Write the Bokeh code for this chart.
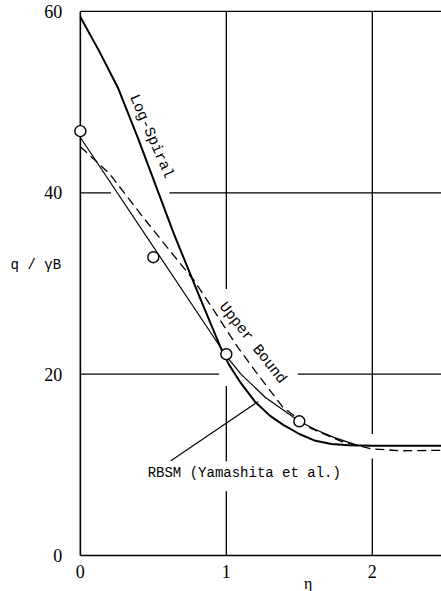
from bokeh.plotting import figure
from bokeh.models import Range1d, FixedTicker, Label, LinearAxis
from bokeh.embed import file_html
from bokeh.resources import INLINE

# ---- data ----
logspiral_x = [0.0, 0.13, 0.26, 0.40, 0.64, 0.83, 0.97, 1.0]
logspiral_y = [59.4, 55.6, 51.5, 45.8, 35.5, 28.0, 22.6, 21.8]

rbsm_x = [0.97, 1.02, 1.1, 1.2, 1.3, 1.39, 1.5, 1.61, 1.72, 1.84, 2.0, 2.16, 2.474]
rbsm_y = [22.6, 21.0, 19.0, 16.9, 15.4, 14.4, 13.4, 12.65, 12.3, 12.15, 12.1, 12.1, 12.1]

thin_x = [0.0, 1.0, 1.1, 1.27, 1.5, 1.61, 1.74, 1.9]
thin_y = [46.1, 22.0, 20.0, 17.4, 14.8, 13.9, 13.0, 12.15]

upper_x = [0.0, 0.2, 0.43, 0.574, 0.78, 0.916, 1.077, 1.2, 1.385, 1.57, 1.8, 2.0, 2.2, 2.474]
upper_y = [45.1, 42.1, 37.3, 34.4, 30.3, 27.0, 23.0, 20.3, 16.4, 14.1, 12.5, 11.75, 11.55, 11.6]

circ_x = [0.0, 0.5, 1.0, 1.5]
circ_y = [46.8, 32.9, 22.2, 14.8]

x_ticks = [0, 1, 2]
y_ticks = [0, 20, 40, 60]
x_grid = [1, 2]
y_grid = [20, 40, 60]
Y_TOP = 60

# leader line of the RBSM label
leader_x = [0.62, 1.22]
leader_y = [10.45, 17.0]

# gaps in the grid lines (as in the drawing)
hgaps = [(40, 0.21, 0.61), (20, 0.95, 1.49)]
vgaps = [(1, 18.7, 29.4), (1, 7.1, 10.4), (2, 10.7, 13.4)]

XMIN, XMAX = -0.547, 2.474
YMIN, YMAX = -3.97, 61.21

p = figure(width=441, height=591, output_backend="svg", toolbar_location=None,
           x_range=Range1d(XMIN, XMAX), y_range=Range1d(YMIN, YMAX),
           x_axis_location=None, y_axis_location=None,
           min_border_left=0, min_border_right=0, min_border_top=0,
           min_border_bottom=0)
p.outline_line_color = None
p.background_fill_color = "white"
p.border_fill_color = "white"
p.xgrid.visible = False
p.ygrid.visible = False

# axes placed at data zero
xax = LinearAxis(ticker=FixedTicker(ticks=x_ticks), fixed_location=0)
yax = LinearAxis(ticker=FixedTicker(ticks=y_ticks), fixed_location=0)
for ax in (xax, yax):
    ax.axis_line_color = None
    ax.major_tick_line_color = None
    ax.minor_tick_line_color = None
    ax.major_label_text_font = "Liberation Serif"
    ax.major_label_text_font_size = "18px"
    ax.major_label_text_color = "black"
xax.major_label_standoff = 3
yax.major_label_standoff = 12
p.add_layout(xax, "below")
p.add_layout(yax, "left")

# grid lines, spanning the plotting box only
p.segment(x0=x_grid, y0=[0] * len(x_grid), x1=x_grid, y1=[Y_TOP] * len(x_grid),
          line_color="black", line_width=1.3)
p.segment(x0=[0] * len(y_grid), y0=y_grid, x1=[XMAX] * len(y_grid), y1=y_grid,
          line_color="black", line_width=1.3)

# axis lines
p.line([0, 0], [0, Y_TOP], line_color="black", line_width=1.6)
p.line([0, XMAX], [0, 0], line_color="black", line_width=1.6)

# white gaps over grid lines
p.segment(x0=[g[1] for g in hgaps], y0=[g[0] for g in hgaps],
          x1=[g[2] for g in hgaps], y1=[g[0] for g in hgaps],
          line_color="white", line_width=4)
p.segment(x0=[g[0] for g in vgaps], y0=[g[1] for g in vgaps],
          x1=[g[0] for g in vgaps], y1=[g[2] for g in vgaps],
          line_color="white", line_width=4)

# curves
p.line(upper_x, upper_y, line_color="black", line_width=1.3, line_dash="9 5")
p.line(thin_x, thin_y, line_color="black", line_width=1.2)
p.line(logspiral_x, logspiral_y, line_color="black", line_width=2.0)
p.line(rbsm_x, rbsm_y, line_color="black", line_width=2.0)
p.line(leader_x, leader_y, line_color="black", line_width=1.1)

p.scatter(circ_x, circ_y, size=11, marker="circle", fill_color="white",
          line_color="black", line_width=1.4)

# labels
mono = "Liberation Mono"
p.add_layout(Label(x=0.483, y=46.2, text="Log-Spiral", angle=-1.16,
                   text_font=mono, text_font_size="15px", text_align="center",
                   text_baseline="middle", text_color="black"))
p.add_layout(Label(x=1.178, y=23.4, text="Upper Bound", angle=-0.904,
                   text_font=mono, text_font_size="15px", text_align="center",
                   text_baseline="middle", text_color="black"))
p.add_layout(Label(x=1.123, y=9.1, text="RBSM (Yamashita et al.)",
                   text_font=mono, text_font_size="14px", text_align="center",
                   text_baseline="middle", text_color="black"))
p.add_layout(Label(x=-0.305, y=32.0, text="q / γB",
                   text_font=mono, text_font_size="14px", text_align="center",
                   text_baseline="middle", text_color="black"))
p.add_layout(Label(x=1.56, y=-3.1, text="η",
                   text_font="Liberation Serif", text_font_size="16px",
                   text_align="center", text_baseline="middle", text_color="black"))

open("out.html", "w").write(file_html(p, INLINE))
